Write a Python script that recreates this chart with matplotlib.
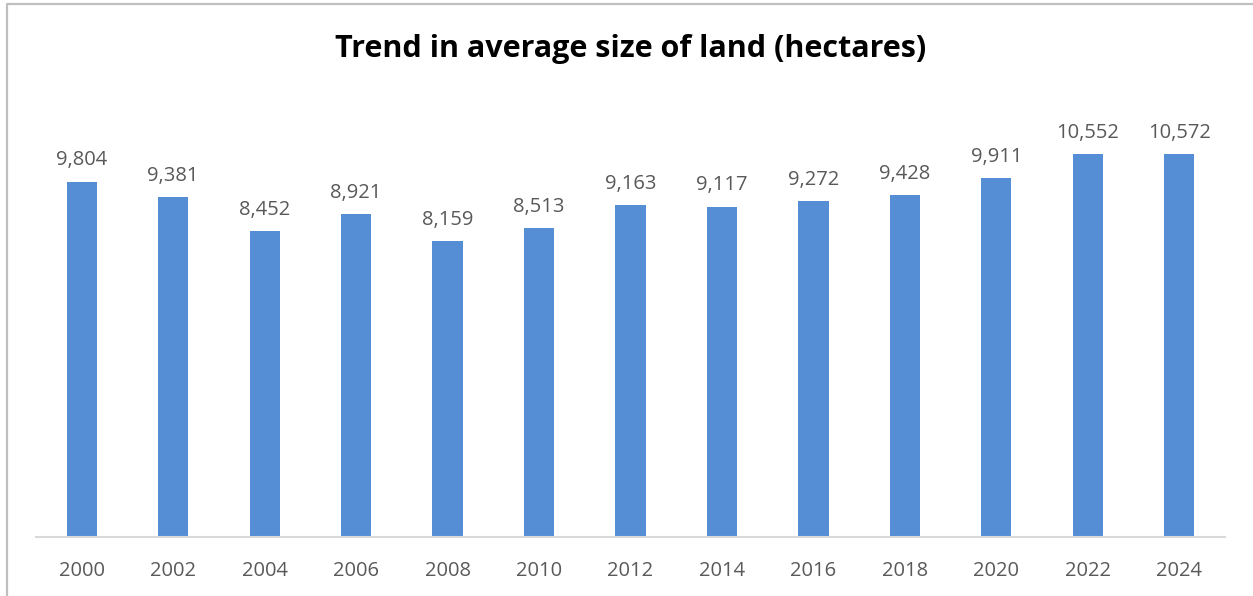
import numpy as np
import matplotlib
matplotlib.use("Agg")
import matplotlib.pyplot as plt
from matplotlib.lines import Line2D

plt.rcParams.update({"font.family": ["Open Sans", "DejaVu Sans"]})

years = ["2000", "2002", "2004", "2006", "2008", "2010", "2012",
         "2014", "2016", "2018", "2020", "2022", "2024"]
avg_size = [9804, 9381, 8452, 8921, 8159, 8513, 9163,
            9117, 9272, 9428, 9911, 10552, 10572]

BAR = "#558ED5"
GREY = "#595959"

fig = plt.figure(figsize=(12.53, 5.96), dpi=100, facecolor="white")
ax = fig.add_axes([36 / 1253, 1 - 537 / 596, 1189 / 1253, 435 / 596])

x = np.arange(len(years))
ax.bar(x, avg_size, width=0.33, color=BAR, zorder=2)
for xi, v in zip(x, avg_size):
    ax.annotate(f"{v:,}", (xi, v), xytext=(0, 8), textcoords="offset points",
                ha="center", va="bottom", fontsize=14.5, color=GREY)

ax.set_xlim(-0.5, len(years) - 0.5)
ax.set_ylim(0, 12000)
ax.set_xticks(x)
ax.set_xticklabels(years, fontsize=14.5, color=GREY)
ax.tick_params(axis="x", length=0, pad=17)
ax.set_yticks([])
for s in ("top", "right", "left"):
    ax.spines[s].set_visible(False)
ax.spines["bottom"].set_color("#d9d9d9")
ax.spines["bottom"].set_linewidth(1.5)

fig.text(631 / 1253, 1 - 49 / 596, "Trend in average size of land (hectares)",
         ha="center", va="center", fontsize=22, fontweight="bold", color="black")

# chart frame (left and top edges visible in the crop)
fig.add_artist(Line2D([7 / 1253, 7 / 1253, 1.0], [0.0, 1 - 4 / 596, 1 - 4 / 596],
                      transform=fig.transFigure, color="#bfbfbf", lw=1.6))

fig.savefig("out.png", dpi=100, facecolor="white")
